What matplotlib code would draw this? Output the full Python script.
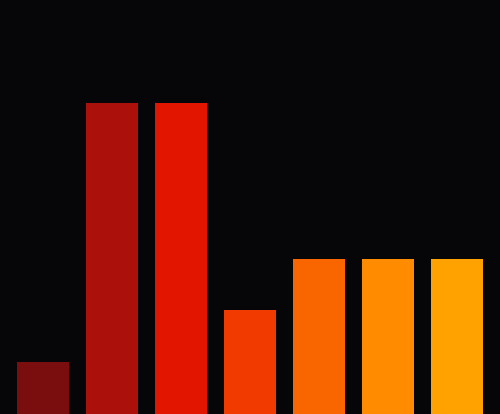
import matplotlib
matplotlib.use("Agg")
from matplotlib import pyplot as plt

categories = ["A", "B", "C", "D", "E", "F", "G"]
values = [1, 6, 6, 2, 3, 3, 3]
colors = ["#7a0e0e", "#ab100a", "#e21500", "#f03a00", "#f96600", "#ff8c00", "#ffa200"]

bg = "#060608"
fig = plt.figure(figsize=(5.0, 4.1402), dpi=100, facecolor=bg)
ax = fig.add_axes([0, 0, 1, 1])
ax.set_facecolor(bg)

x = range(len(categories))
ax.bar(x, values, width=0.75, color=colors)

ax.set_xlim(-0.625, 6.625)
ax.set_ylim(0, 8)
ax.axis("off")

fig.savefig("out.png", dpi=100, facecolor=bg)
